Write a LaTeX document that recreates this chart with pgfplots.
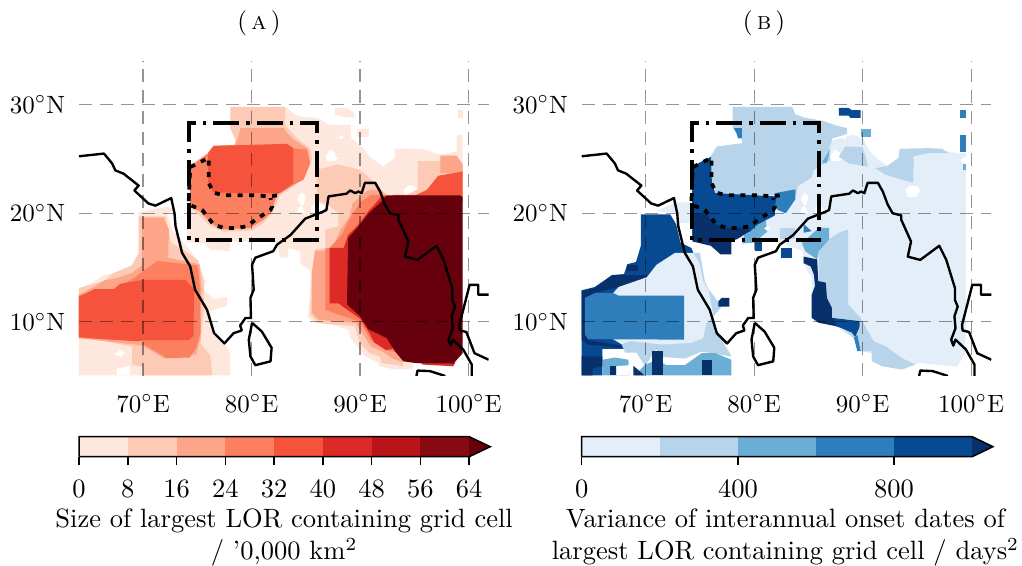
\RequirePackage{fix-cm}
\documentclass[border=0pt]{standalone}
\usepackage{pgfplots}
\pgfplotsset{compat=1.18}
\definecolor{Ra}{HTML}{FEE8DE}
\definecolor{Rb}{HTML}{FDCAB5}
\definecolor{Rc}{HTML}{FCA588}
\definecolor{Rd}{HTML}{FC7F5F}
\definecolor{Re}{HTML}{F5533B}
\definecolor{Rf}{HTML}{DE2A26}
\definecolor{Rg}{HTML}{B81419}
\definecolor{Rh}{HTML}{870A12}
\definecolor{Ri}{HTML}{67000D}
\definecolor{Ba}{HTML}{E3EEF9}
\definecolor{Bb}{HTML}{B7D4EA}
\definecolor{Bc}{HTML}{6AAED6}
\definecolor{Bd}{HTML}{2E7EBC}
\definecolor{Be}{HTML}{084A91}
\definecolor{Bf}{HTML}{08306B}
\newcommand{\poly}[2]{\addplot[fill=#1,draw=none,forget plot] coordinates {#2} --cycle;}
\newcommand{\coast}{%
\addplot[black,line width=.95pt,line join=round] coordinates {(64.1,25.25)(66.4,25.5)(67.15,24.6)(67.45,23.95)(68.2,23.65)(69.6,22.55)(69.2,22.1)(70.5,20.9)(71.15,20.7)(72.6,21.4)(72.9,20)(73,18.8)(73.6,16.35)(74.35,15.1)(74.8,12.95)(75.9,11.1)(76.55,8.95)(77.5,8)(78.35,8.95)(79.1,9.2)(78.95,9.65)(79.45,10.35)(79.95,10.35)(79.9,12.2)(80.2,12.95)(80.05,15.25)(80.35,15.9)(82,16.5)(82.35,17.1)(83.6,18)(84.95,19.5)(86.6,20.15)(86.9,20.3)(87.1,21.55)(88.75,21.8)(89.1,22.1)(89.55,21.85)(89.85,22)(90.15,21.85)(90.45,22.8)(91.4,22.8)(91.85,22)(92.3,20.8)(92.75,20)(93.55,19.8)(93.55,19.4)(94.45,17.4)(94.15,16)(95.3,15.7)(97.05,17)(97.7,15.7)(98.5,13.1)(98.5,12)(98.75,11.4)(98.45,10.5)(98.55,9.4)(98.15,8.35)(98.35,7.8)(98.55,8.35)(99.5,7.45)(100.3,6.05)(100.3,5)};
\addplot[black,line width=.95pt,line join=round] coordinates {(101.85,12.5)(100.9,12.5)(100.9,13.4)(100.1,13.4)(99.15,9.7)(99.2,9.2)(99.8,9.05)(100.55,7.1)(101.85,6.5)};
\addplot[black,line width=.95pt,line join=round] coordinates {(95.2,5)(95.3,5.5)(96.45,5.45)(97.85,5)};
\addplot[black,line width=.95pt,line join=round] coordinates {(80.05,9.9)(80.95,9.1)(81.85,7.6)(81.75,6.35)(80.35,6)(79.9,6.8)(79.75,8.35)(80.05,9.9)};
\addplot[black,line width=1.5pt,dash pattern=on 1.4pt off 2.8pt on 10.4pt off 2.8pt] coordinates {(74.25,17.55)(74.25,28.3)(86,28.3)(86,17.55)(74.25,17.55)};
\addplot[black,line width=1.5pt,dash pattern=on 2pt off 2.6pt] coordinates {(82.35,21.65)(81.6,21.55)(80.5,21.65)(77.45,21.65)(76.5,21.9)(76.05,22.8)(76.05,25.1)(75.45,24.8)(74.35,24.25)(74.2,20.8)(75.45,20.3)(76.05,19.55)(76.5,18.95)(77.45,18.65)(78.65,18.65)(79.6,18.8)(80.35,19.4)(81.75,20.3)(81.9,20.6)(81.75,21.4)};
}
\pgfplotsset{mapax/.style={scale only axis,width=163.84pt,height=126.08pt,anchor=south west,
 xmin=64.1,xmax=101.85,ymin=5,ymax=34.05,axis on top,
 axis line style={draw=none},major tick length=0pt,
 xtick={70,80,90,100},ytick={10,20,30},
 xticklabels={70$^\circ$E,80$^\circ$E,90$^\circ$E,100$^\circ$E},
 yticklabels={10$^\circ$N,20$^\circ$N,30$^\circ$N},
 grid=major,major grid style={black,opacity=.42,line width=.55pt,dash pattern=on 5.2pt off 3.2pt},
 xticklabel style={yshift=-4pt},yticklabel style={xshift=-2pt}},
 cbar/.style={scale only axis,height=8pt,anchor=south west,ymin=0,ymax=1,clip=false,
 axis line style={draw=none},ytick=\empty,xtick pos=bottom,tick align=outside,
 major tick length=3.4pt,tick style={black,line width=.6pt},
 /pgf/number format/assume math mode=true,
 xticklabel style={font=\fontsize{10.6}{12.6}\selectfont,yshift=-2.2pt},
 xlabel style={font=\fontsize{10.6}{12.8}\selectfont,align=center,yshift=2.4pt}}}
\begin{document}
\begin{tikzpicture}
\path[use as bounding box] (0,0) rectangle (408.8pt,-226.4pt);
\node at (103.6pt,-9.2pt) {(\,\textsc{a}\,)};
\node at (305.6pt,-9.2pt) {(\,\textsc{b}\,)};
% ---------- panel a
\begin{axis}[mapax,at={(31.6pt,-150.4pt)}]
\poly{Ra}{(64.1,5.05)(64.1,13.1)(65,13.4)(66.4,14.3)(67.5,14.55)(68.6,14.6)(69.2,15.7)(69.6,16.3)(69.6,20.1)(70.5,20.3)(72.2,20.6)(73,20.3)(72.2,20)(72.7,18.5)(73.75,17.3)(75.1,15.6)(75.75,13.7)(75.6,13)(76.5,12.1)(77.74,12.3)(77.74,11.5)(76.2,11)(76.5,9.2)(77.5,8)(78.05,7.1)(78.05,5.05)}
\poly{Ra}{(78.05,29.8)(83.2,29.8)(83.85,29.2)(84.5,28.9)(86,28.8)(87.2,28.15)(89.1,28.15)(89.2,26.9)(90.3,26)(90.9,25.2)(92.15,24.3)(93.2,25.1)(93.2,25.95)(94.45,25.95)(95.8,25.9)(97.4,25.4)(98.9,25.7)(98.9,27.2)(99.46,27.2)(99.46,7.1)(98.6,5.9)(95.8,6.05)(94.9,6.2)(94.8,5.6)(93.2,5.6)(91.7,5.9)(91.7,6.2)(90.5,6.8)(90,7.43)(89.1,8.5)(88.9,9.3)(87.2,9.75)(86,9.9)(85.2,10.35)(85.4,12.65)(85.45,14.65)(84.5,15.4)(84.5,16.5)(83.4,16.8)(83.4,15.9)(82.63,15.9)(82.35,17.4)(78,17.4)(78,16.5)(76.2,16.65)(75.6,17.27)(74.05,17.3)(74.05,19.4)(74.4,20.6)(74.35,24.3)(76.05,25.55)(76.5,26.2)(78.5,26.3)(78.5,26.8)(78.05,27.85)}
\poly{Ra}{(87.7,29.75)(88.9,29.65)(89.5,29.15)(89.5,28.8)(88.4,28.9)(87.7,29.1)}
\poly{Ra}{(89.75,27.75)(90.8,27.75)(90.8,27)(89.75,27)}
\poly{Ra}{(99,29.5)(99.46,29.5)(99.46,28.8)(99,28.8)}
\poly{white}{(86.8,25.2)(87.2,25.85)(87.7,25.6)(87.7,25.2)(88.1,25.1)(87.6,24.8)(87,24.8)}
\poly{white}{(88,27)(88.3,27.2)(88.5,27)(88.3,26.8)}
\poly{white}{(94,22.2)(94.5,22.55)(95,22.5)(95.3,22.1)(94.9,21.5)(94.2,21.5)}
\poly{white}{(84.2,21.3)(84.6,21.9)(85,21.6)(84.8,20.8)(84.3,20.5)(84.2,20)(85,20)}
\poly{white}{(85.5,20.6)(86,21.1)(86.8,20.6)(86.4,20)(85.5,20)}
\poly{white}{(67.4,7)(67.9,7.4)(68.3,7.2)(68,6.8)}
\poly{white}{(67.6,5.05)(67.6,5.7)(68.8,5.9)(68.8,5.05)}
\poly{Rb}{(70,5.05)(70,5.9)(69,6)(69,7.7)(66.5,8.2)(64.1,8.6)(64.1,13.1)(65.1,13.4)(66.4,13.75)(67.3,14.5)(69,15.2)(69.6,16.3)(69.6,19.7)(72.1,19.7)(72.3,18.5)(72.6,17.3)(74.2,16.3)(75.1,15.6)(75.6,13.7)(75.6,11)(75.3,8)(76.2,6.9)(76.4,5.05)}
\poly{Rb}{(78.05,29.8)(83.1,29.8)(83.1,28.1)(84.2,26.9)(85.4,25.95)(85.6,25)(84.75,23.3)(83.85,22.5)(82.6,21.6)(81.9,20)(81,19)(80,18.4)(77.4,18.3)(76.2,18.8)(75,20)(74.3,20.6)(74.3,24.4)(76,25.6)(76.5,26.2)(78.5,26.3)(78.5,26.8)(78.05,27.85)}
\poly{Rb}{(86,24)(88,24.5)(90,24)(90.9,23.25)(92.45,21.65)(91.85,20.8)(90.9,20)(93,12)(94,5.9)(92,6.2)(91.85,6.8)(90.9,7.1)(90,8.05)(89.5,9.6)(87.5,9.75)(86.15,9.9)(85.4,10.65)(85.55,14.5)(85.85,16.65)(86.8,16.8)(86.8,18.5)(88,18.8)(88,20)(86.9,20.9)(86,21.1)}
\poly{Rb}{(95.3,24.8)(97.4,24.8)(97.4,25.3)(98.9,25.3)(99.46,24.5)(99.46,21)(93,21)(95.3,22.2)}
\poly{Rc}{(69.9,19.6)(71.9,19.6)(72.4,18.5)(72.3,15.9)(73.7,15.6)(75.2,15.3)(75.4,13)(75.3,8.5)(74.9,7)(72,6.6)(70,7.8)(64.1,8.5)(64.1,12.5)(65.5,13.2)(66.4,13.8)(67.5,14)(69,14.5)(69.9,15.2)}
\poly{Rc}{(79,27.85)(83,27.85)(83.1,27.6)(83.85,26.8)(85.2,25.95)(85.4,24.6)(84.8,23.2)(83.85,22.6)(82.6,21.85)(78,21.85)(76.5,26.2)(78.5,26.3)(78.8,27.1)}
\poly{Rc}{(85.85,16.5)(86.95,16.6)(87.7,17.3)(88.2,18.5)(89,19.6)(89.3,20.9)(90.7,22.1)(91.8,22.2)(92.45,21.65)(93,15)(94,6.25)(93,6.6)(92.2,7.2)(91,7.7)(90.5,8.5)(89.6,9.9)(88,10)(86.2,10.2)(85.6,10.8)(85.55,14.5)}
\poly{Rc}{(97.4,25.3)(98.9,25.3)(99.46,24.5)(99.46,23.7)(97.4,23.7)}
\poly{Rd}{(71.3,15.6)(75,15.2)(75.2,13.7)(75.3,9)(74.9,7.6)(74.3,6.7)(72.2,6.65)(70.1,7.9)(69.9,8.25)(64.1,8.5)(64.1,12.4)(66,13)(67.3,13)(69.3,14.1)(70.2,14.8)}
\poly{Rd}{(76.05,25.55)(76.5,26.2)(82.6,26.3)(83.85,26)(85.1,25.85)(85.4,24.6)(84.8,23.1)(83.85,22.6)(82.6,21.85)(82.35,21.7)(81.75,20)(81.1,19.4)(79.9,18.65)(77.4,18.5)(76.35,19)(75.2,20.2)(74.35,20.6)(74.35,24.3)}
\poly{Rd}{(86.8,16.75)(87.2,16.8)(88.3,18)(89,19.4)(90,21)(91,21.7)(92,21.7)(93,15)(93.2,7.2)(92.3,7.4)(91,8.3)(90,10)(88.5,10.5)(86.8,11.1)}
\poly{Re}{(64.1,12.3)(65.5,13)(67.3,13)(67.9,13.5)(70,13.85)(73.9,13.85)(74.7,13)(74.65,8.7)(74.2,8.3)(70.2,8.3)(69.4,8.2)(66.4,8.4)(64.1,8.6)}
\poly{Re}{(76.5,26.2)(83.27,26.4)(83.85,26)(83.85,22.8)(82.6,21.85)(76.5,21.9)(76,22.8)(76,25.55)}
\poly{Re}{(97.2,23.45)(99.46,23.85)(99.46,21)(93,21)(93,21.7)(95.2,21.7)(96.15,22.15)}
\poly{Rf}{(87.2,16.8)(88.5,16.8)(88.9,18)(89.9,19)(90.7,20.1)(91.5,21)(92,21.6)(92.5,21.6)(93,15)(93,7.5)(92.4,7.4)(91.3,8.1)(90.9,8.9)(90,10.3)(88.7,11.2)(88,11.7)(87.2,11.7)}
\poly{Rf}{(95.5,6.3)(95.8,6.05)(98.6,5.9)(98.8,6.3)}
\poly{Ri}{(92.45,21.65)(91.85,20.95)(90.8,20)(90,18.95)(88.9,17.7)(88.8,11.6)(90,10.5)(90.8,9.3)(92.45,8.5)(93.2,7.3)(94,6.35)(95.1,6.2)(98.6,6.15)(99.46,7.1)(99.46,21.5)(99.2,21.65)}
\coast
\end{axis}
% ---------- panel b
\begin{axis}[mapax,at={(232.68pt,-150.4pt)}]
\poly{Be}{(64.1,5.05)(64.1,12.9)(65.3,13.2)(66.9,14.3)(68,14.4)(68.3,15.3)(69.1,15.5)(69.55,17)(69.55,19.9)(72.25,19.9)(72.8,19)(73.2,17.3)(74.2,16.8)(74.4,16.35)(72.7,16)(72,8)(70,7)(68,7.5)(66,7.5)(66,5.05)}
\poly{Bf}{(64.1,12.85)(65.3,13.1)(66.9,14.3)(70.1,14.3)(70.1,13.9)(67.5,13.2)(65.3,12.65)(64.4,12.2)(64.4,8.8)(64.7,8.3)(67.8,7.8)(67.6,7.6)(64.7,7.9)(64.1,8.3)}
\poly{Bf}{(68.25,15.25)(69.3,15.25)(69.3,14.65)(68.25,14.65)}
\poly{Bb}{(74.4,16.35)(75,16.35)(75.45,13.7)(75.8,13)(77,11.4)(76.25,10.5)(76.55,9)(77.75,7.1)(77.9,6.8)(75.15,7.25)(73.6,6.6)(71.15,6.8)(71,7.6)(69.95,5.9)(69.15,7.15)(68.1,7.15)(67.8,7.9)(68.7,8.2)(72,12)}
\poly{Ba}{(67,12.65)(67.5,13.2)(70.1,14.1)(71,15.25)(72.7,16.35)(74.4,16.35)(75,15.25)(75.3,13.7)(75.8,12.9)(76.25,10.5)(75.6,9.9)(75.3,8.5)(74.2,8.05)(71.5,7.9)(68.7,8.2)(67.8,7.9)(66,9)}
\poly{Bd}{(64.4,12.2)(65.34,12.65)(67,12.65)(67.5,12.4)(73.55,12.4)(73.55,8.35)(64.7,8.4)(64.4,8.8)}
\poly{Bc}{(66,6.5)(67.2,6.7)(68.4,6.5)(68.5,5.05)(66,5.05)}
\poly{Bc}{(69,5.05)(69.9,6)(71,6.5)(71.9,6)(73.6,6)(75.15,7.1)(76.4,7.1)(77.9,6.5)(77.9,5.05)}
\poly{Bf}{(64.1,6.8)(66,6.8)(66,5.9)(65.1,5.7)(65.1,5.05)(64.1,5.05)}
\poly{Bf}{(66.7,5.9)(67.3,5.9)(67.3,5.05)(66.7,5.05)}
\poly{Bf}{(68.85,5.95)(69.9,5.05)(68.85,5.05)}
\poly{Bf}{(70.55,7.3)(71.6,7.3)(71.6,5.05)(70.55,5.05)}
\poly{Bf}{(75.15,6.5)(76.1,6.5)(76.1,5.05)(75.15,5.05)}
\poly{white}{(67.2,7)(67.7,7.3)(68.2,7.1)(67.8,6.75)}
\poly{white}{(67.3,5.05)(67.3,5.9)(68.5,6)(68.5,5.05)}
\poly{Bf}{(76.7,11.9)(77,12.2)(77.7,12.2)(77.7,11.4)(76.7,11.4)}
\poly{Be}{(80.1,17.4)(80.75,17.4)(80.75,16.5)(80.1,16.5)}
\poly{Be}{(82.5,16.8)(83.45,16.8)(83.45,15.9)(82.5,15.9)}
\poly{Ba}{(71,20.2)(72.7,21)(74.1,21)(74.1,19.1)(72.9,19.1)(72.9,20)}
% east
\poly{Ba}{(78.9,17.4)(82.4,17.4)(83.4,16.9)(84.5,16.5)(84.5,15.4)(85.3,14)(85.3,10.35)(87.5,9.6)(89.15,8.5)(89.8,7.3)(90.85,7.1)(90.85,6.35)(91.8,5.9)(93.6,5.6)(94.85,6.05)(95.15,6.2)(98.7,5.85)(99.45,7.1)(99.5,10.5)(99.5,25.6)(98.85,25.5)(97.9,25.7)(96.1,25.9)(94.7,25.9)(93.3,25.9)(93.3,25.1)(92.25,24.35)(91.15,25.2)(90.55,25.8)(90.1,26.8)(89.15,27.25)(87.5,26.8)(84,26)(78,21)}
\poly{white}{(87,25.2)(87.4,25.9)(87.9,25.6)(87.9,25.2)(88.4,25.1)(87.8,24.8)(87.2,24.8)}
\poly{white}{(88.1,27)(88.3,27.2)(88.55,27)(88.3,26.8)}
\poly{white}{(93.9,22.2)(94.4,22.55)(95,22.5)(95.3,22.1)(94.9,21.5)(94.2,21.5)}
\poly{white}{(84.3,21.3)(84.6,21.9)(85,21.6)(84.8,20.8)(84.4,20.5)(84.2,20)(85,20)}
\poly{white}{(85.6,20.5)(86,20.8)(86.4,20.4)(86.4,20)(85.6,20)}
\poly{white}{(99,24.9)(99.4,25.2)(99.7,24.9)(99.4,24.5)}
\poly{Bb}{(78,29.8)(83.5,29.8)(83.8,29.1)(84.7,28.8)(86.4,28.5)(87.5,28.1)(88.55,27.85)(88.55,27.3)(87.2,26.9)(86.9,25.9)(87,24.9)(85.5,24)(85.3,23.3)(84,22.5)(83.9,21.7)(76,21.6)(76,25.25)(76.55,26.15)(78.85,26.45)(78.85,27.7)(78,27.85)}
\poly{Bb}{(88.4,26.15)(90,26.1)(90.5,24.3)(88.7,24.6)(87.8,25.2)}
\poly{Bb}{(91.15,24.15)(92.25,24.35)(93.3,25.1)(93.45,25.95)(96.1,26)(97.3,25.95)(97.9,25.55)(96.1,25.55)(94.7,25.25)(94.65,22.8)(92.1,23.55)}
\poly{Bb}{(85.95,16.5)(86.9,17.6)(87.8,18.2)(88.65,18.5)(88.65,11.6)(89.8,10.35)(91,8.2)(92.1,7.75)(93.6,6.65)(94.85,6.05)(93.6,5.6)(91.8,5.9)(90.85,6.35)(90.8,7.3)(89.8,7.3)(89.15,8.5)(87.5,9.9)(85.95,11.1)}
\poly{Bb}{(82.4,18.6)(83.76,18.6)(83.76,17.6)(82.4,17.6)}
\poly{Bc}{(85.95,18.65)(86.9,18.65)(86.9,17.6)(85.95,16.5)(85.8,15.75)(84.7,16.5)(84.4,17.25)}
\poly{Bc}{(79.2,18.7)(81,19.7)(81.2,18.3)(80,17.3)(78.9,17.2)}
\poly{Bc}{(86.25,24.7)(87,25.9)(86.7,24.6)}
\poly{Bc}{(89.8,27.75)(90.8,27.75)(90.8,27)(89.8,27)}
\poly{Bc}{(99.2,24.5)(99.5,24.5)(99.5,24)(99.2,24)}
\poly{white}{(80.9,18.6)(81.2,18.8)(81.5,18.6)(81.2,18.4)}
\poly{Bd}{(78.1,27.85)(78.85,27.85)(78.85,26.9)(78.5,26.9)(78.4,27.3)}
\poly{Bd}{(81.9,21.85)(83.8,22.2)(83.8,21.3)(82.9,20)(82.2,20.3)(81.9,20.5)}
\poly{Bd}{(99,29.5)(99.5,29.5)(99.5,28.8)(99,28.8)}
\poly{Bd}{(99,27.2)(99.5,27.2)(99.5,25.6)(99,25.6)}
\poly{Bd}{(84.55,19)(85.3,18.35)(84.55,18.2)}
\poly{Bd}{(89.2,8.5)(89.5,8.8)(89.8,7.3)(89.5,7.3)}
\poly{Be}{(87.8,29.7)(88.7,29.7)(89,29.5)(89.8,29.5)(89.8,28.8)(88.85,28.8)(88.7,29)(87.8,29)}
\poly{Be}{(74.25,24.3)(76,25.2)(76.1,22.8)(76.4,21.85)(82.05,21.55)(81.9,20.5)(81.9,19.8)(80.2,18.9)(79.6,18.3)(77,18)(74.3,18)}
\poly{Bf}{(74.3,19.9)(75.5,20.1)(76.3,19)(77.5,18.65)(79.5,18.7)(79.5,18.3)(78.4,17.6)(77.9,17.5)(77.9,16.2)(76.9,16.2)(76,17)(74.3,17.4)}
\poly{Bf}{(84.55,16)(85.8,15.75)(85.9,13.75)(86.6,13.6)(86.7,12.2)(87.15,11.3)(87.15,10.35)(89.7,10.05)(89.7,9.6)(89.2,9.1)(87.5,9.6)(85.95,9.9)(85.3,10.35)(85.3,12.5)(85.6,13.3)(85.5,14.35)(85.2,15.1)(84.55,15.4)}
\poly{Be}{(89.7,10)(89.7,9.5)(89.3,8.6)(89,9)(87.6,9.6)(87.3,10.3)}
\coast
\end{axis}
% ---------- colour bars
\begin{axis}[cbar,at={(31.6pt,-182.68pt)},width=156.1pt,xmin=0,xmax=64,xtick={0,8,...,64},
 xlabel style={xshift=4pt},
 xlabel={Size of largest LOR containing grid cell\\/ '0,000 km$^2$}]
\poly{Ra}{(0,0)(8,0)(8,1)(0,1)}
\poly{Rb}{(8,0)(16,0)(16,1)(8,1)}
\poly{Rc}{(16,0)(24,0)(24,1)(16,1)}
\poly{Rd}{(24,0)(32,0)(32,1)(24,1)}
\poly{Re}{(32,0)(40,0)(40,1)(32,1)}
\poly{Rf}{(40,0)(48,0)(48,1)(40,1)}
\poly{Rg}{(48,0)(56,0)(56,1)(48,1)}
\poly{Rh}{(56,0)(64,0)(64,1)(56,1)}
\poly{Ri}{(64,0)(67.44,.5)(64,1)}
\addplot[black,line width=.6pt] coordinates {(0,0)(64,0)(67.44,.5)(64,1)(0,1)(0,0)};
\end{axis}
\begin{axis}[cbar,at={(232.68pt,-182.68pt)},width=156.2pt,xmin=0,xmax=1000,xtick={0,400,800},
 xlabel style={xshift=3.4pt},
 xlabel={Variance of interannual onset dates of\\largest LOR containing grid cell / days$^2$}]
\poly{Ba}{(0,0)(200,0)(200,1)(0,1)}
\poly{Bb}{(200,0)(400,0)(400,1)(200,1)}
\poly{Bc}{(400,0)(600,0)(600,1)(400,1)}
\poly{Bd}{(600,0)(800,0)(800,1)(600,1)}
\poly{Be}{(800,0)(1000,0)(1000,1)(800,1)}
\poly{Bf}{(1000,0)(1053,.5)(1000,1)}
\addplot[black,line width=.6pt] coordinates {(0,0)(1000,0)(1053,.5)(1000,1)(0,1)(0,0)};
\end{axis}
\end{tikzpicture}
\end{document}
